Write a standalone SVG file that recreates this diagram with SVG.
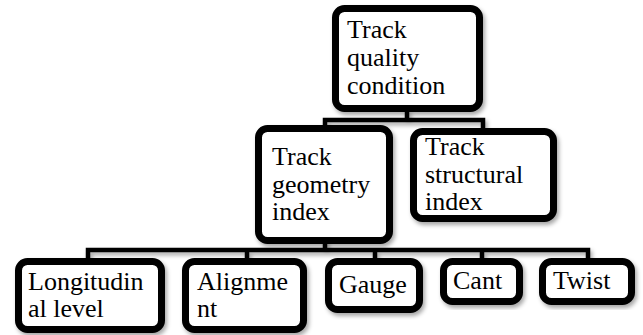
<svg xmlns="http://www.w3.org/2000/svg" width="643" height="335" viewBox="0 0 643 335">
<style>
.box{fill:#fff;stroke:#000;stroke-width:7;filter:url(#sh)}
.conn{fill:none;stroke:#000;stroke-width:4.5;stroke-linejoin:miter}
text{font-family:'Liberation Serif','Tinos','Times New Roman','DejaVu Serif',serif;font-size:26px;fill:#000}
</style>
<defs>
<filter id="sh" x="-10%" y="-10%" width="125%" height="130%">
<feDropShadow dx="2" dy="3" stdDeviation="2" flood-color="#000" flood-opacity="0.35"/>
</filter>
</defs>
<rect width="643" height="335" fill="#fff"/>
<g id="connectors" filter="url(#sh)">
<path class="conn" d="M407,110 V120 M325,130 V120 H483 V130"/>
<path class="conn" d="M325,240 V250 M88,260 V250 H588 V260 M247,250 V260 M375,250 V260 M482,250 V260"/>
</g>
<g id="n-quality">
<rect class="box" x="335.5" y="8.5" width="144" height="100" rx="9"/>
<text x="347" y="38">Track</text>
<text x="347" y="66">quality</text>
<text x="347" y="94">condition</text>
</g>
<g id="n-geometry">
<rect class="box" x="258.5" y="128.5" width="131" height="112" rx="9"/>
<text x="272" y="165">Track</text>
<text x="272" y="192.5">geometry</text>
<text x="272" y="220">index</text>
</g>
<g id="n-structural">
<rect class="box" x="413.5" y="131.5" width="140" height="87" rx="9"/>
<text x="425" y="155">Track</text>
<text x="425" y="182.5">structural</text>
<text x="425" y="210">index</text>
</g>
<g id="n-longitudinal">
<rect class="box" x="18.5" y="261.5" width="143" height="68" rx="9"/>
<text x="28" y="290">Longitudin</text>
<text x="28" y="317">al level</text>
</g>
<g id="n-alignment">
<rect class="box" x="185.5" y="261.5" width="118" height="68" rx="9"/>
<text x="197" y="290">Alignme</text>
<text x="197" y="317">nt</text>
</g>
<g id="n-gauge">
<rect class="box" x="328.5" y="261.5" width="91" height="48" rx="9"/>
<text x="339" y="293">Gauge</text>
</g>
<g id="n-cant">
<rect class="box" x="443.5" y="261.5" width="76" height="40" rx="9"/>
<text x="453" y="289">Cant</text>
</g>
<g id="n-twist">
<rect class="box" x="542.5" y="261.5" width="89" height="40" rx="9"/>
<text x="553" y="289">Twist</text>
</g>
</svg>
